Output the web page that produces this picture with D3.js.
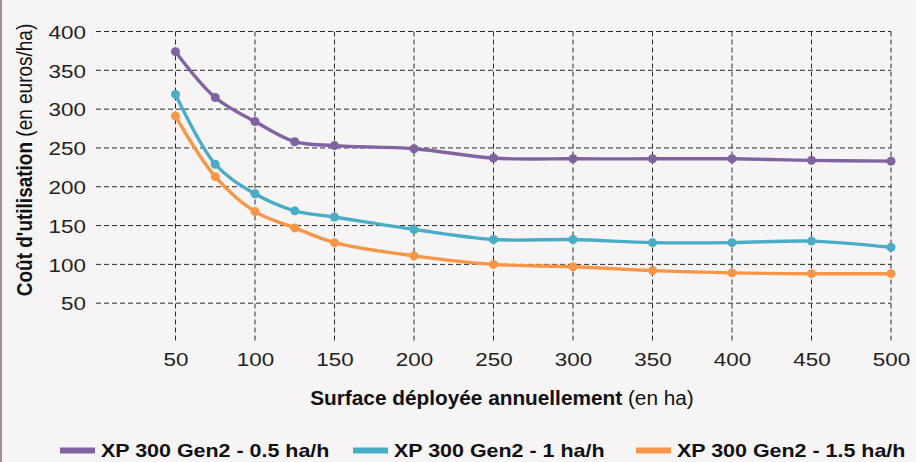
<!DOCTYPE html>
<html><head><meta charset="utf-8">
<script src="https://cdn.jsdelivr.net/npm/d3@7"></script>
<style>
html,body{margin:0;padding:0;background:#fff;}
svg{display:block;font-family:"Liberation Sans",Arial,Helvetica,sans-serif;}
</style></head>
<body>
<svg id="chart" width="919" height="462"></svg>
<script>
const surfaces = [50, 75, 100, 125, 150, 200, 250, 300, 350, 400, 450, 500];
const xTicks = [50, 100, 150, 200, 250, 300, 350, 400, 450, 500];
const yTicks = [50, 100, 150, 200, 250, 300, 350, 400];
const seriesNames = ["XP 300 Gen2 - 0.5 ha/h", "XP 300 Gen2 - 1 ha/h", "XP 300 Gen2 - 1.5 ha/h"];
const seriesColors = ["#8064a2", "#4bacc6", "#f79646"];
const cost05 = [374, 315, 284, 258, 253, 249, 237, 236, 236, 236, 234, 233];
const cost1  = [319, 229, 191, 169, 161, 145, 132, 132, 128, 128, 130, 122];
const cost15 = [291, 213, 168, 147, 128, 111, 100, 97, 92, 89, 88, 88];
const seriesValues = [cost05, cost1, cost15];

const svg = d3.select("#chart");
svg.append("rect").attr("x",0).attr("y",0).attr("width",916).attr("height",462).attr("fill","#f6f4f5");
svg.append("rect").attr("x",0).attr("y",0).attr("width",2).attr("height",462).attr("fill","#a38c93");

const x = d3.scaleLinear().domain([0,500]).range([96,891]);
const y = d3.scaleLinear().domain([0,400]).range([342,31.5]);

const grid = svg.append("g");
grid.selectAll("line.h").data(yTicks).join("line")
  .attr("x1",x(0)).attr("x2",x(500))
  .attr("y1",d=>y(d)).attr("y2",d=>y(d))
  .attr("stroke","#2a2a2a").attr("stroke-width",1).attr("stroke-dasharray","5,3");
grid.selectAll("line.v").data(xTicks).join("line")
  .attr("x1",d=>x(d)).attr("x2",d=>x(d))
  .attr("y1",y(400)).attr("y2",y(0)+1)
  .attr("stroke","#2a2a2a").attr("stroke-width",1).attr("stroke-dasharray","5,3");

// axes (labels only)
const yAxis = svg.append("g").attr("transform",`translate(${x(0)},0)`)
  .call(d3.axisLeft(y).tickValues(yTicks).tickSize(0).tickPadding(0));
yAxis.select(".domain").remove();
yAxis.selectAll("text").attr("x",null).attr("dy",null).attr("y",6.8)
  .attr("transform","translate(-10,0) scale(1.18,1)")
  .attr("font-size",19).attr("fill","#222").attr("font-family","Liberation Sans, Arial, sans-serif");

const xAxis = svg.append("g").attr("transform",`translate(0,${y(0)})`)
  .call(d3.axisBottom(x).tickValues(xTicks).tickSize(0).tickPadding(0));
xAxis.select(".domain").remove();
xAxis.selectAll("text").attr("dy",null).attr("y",0)
  .attr("transform","translate(0,24) scale(1.18,1)")
  .attr("font-size",19).attr("fill","#222").attr("font-family","Liberation Sans, Arial, sans-serif");

// lines
const line = d3.line().x((d,i)=>x(surfaces[i])).y(d=>y(d)).curve(d3.curveCatmullRom.alpha(0.5));
seriesValues.forEach((vals,k)=>{
  svg.append("path").datum(vals).attr("d",line)
    .attr("fill","none").attr("stroke",seriesColors[k]).attr("stroke-width",3.4).attr("stroke-linejoin","round");
  svg.selectAll(null).data(vals).join("circle")
    .attr("cx",(d,i)=>x(surfaces[i])).attr("cy",d=>y(d)).attr("r",4.5)
    .attr("fill",seriesColors[k]);
});

// axis titles
const yt = svg.append("text").attr("transform","translate(32,160) scale(1.18,1) rotate(-90)")
  .attr("text-anchor","middle").attr("font-size",19).attr("fill","#111");
yt.append("tspan").attr("font-weight","bold").text("Coût d'utilisation");
yt.append("tspan").text(" (en euros/ha)");

const xt = svg.append("text").attr("transform","translate(502,405) scale(1.04,1)")
  .attr("text-anchor","middle").attr("font-size",20).attr("fill","#111");
xt.append("tspan").attr("font-weight","bold").text("Surface déployée annuellement");
xt.append("tspan").text(" (en ha)");

// legend
const legX = [60, 353, 636];
seriesNames.forEach((name,k)=>{
  const g = svg.append("g").attr("transform",`translate(${legX[k]},450.5)`);
  g.append("rect").attr("x",0).attr("y",-3).attr("width",35).attr("height",6).attr("fill",seriesColors[k]);
  g.append("text").attr("transform","translate(41,6.5) scale(1.16,1)").attr("font-size",18.5).attr("font-weight","bold").attr("fill","#111").text(name);
});
</script>
</body></html>
